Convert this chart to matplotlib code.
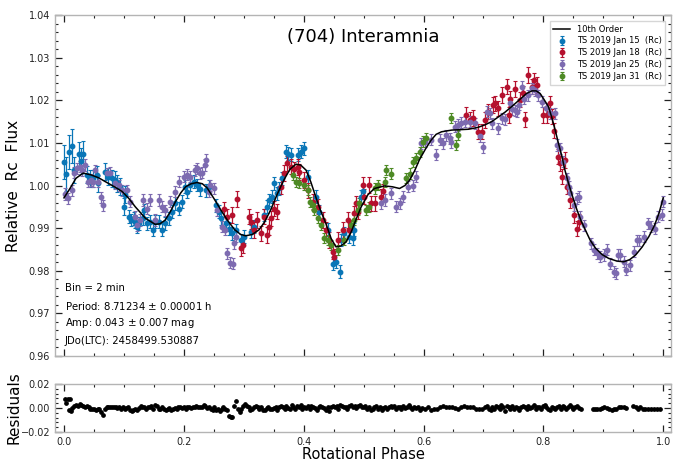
import matplotlib
matplotlib.use("Agg")
import matplotlib.pyplot as plt
from matplotlib.ticker import MultipleLocator

# ---------------- data ----------------
fit_phase = [0.000, 0.010, 0.020, 0.032, 0.045, 0.058, 0.069, 0.083, 0.097, 0.108,
             0.119, 0.136, 0.152, 0.160, 0.169, 0.178, 0.186, 0.195, 0.203, 0.212,
             0.222, 0.231, 0.239, 0.250, 0.262, 0.2725, 0.285, 0.295, 0.303, 0.314,
             0.3255, 0.335, 0.345, 0.356, 0.367, 0.377, 0.387, 0.395, 0.404, 0.412,
             0.420, 0.428, 0.437, 0.446, 0.454, 0.462, 0.471, 0.479, 0.487, 0.496,
             0.507, 0.518, 0.535, 0.548, 0.560, 0.569, 0.577, 0.585, 0.593, 0.603,
             0.613, 0.621, 0.630, 0.647, 0.675, 0.690, 0.702, 0.714, 0.725, 0.736,
             0.747, 0.756, 0.764, 0.772, 0.781, 0.788, 0.7945, 0.801, 0.8085, 0.814,
             0.8197, 0.825, 0.831, 0.836, 0.842, 0.849, 0.856, 0.863, 0.870, 0.878,
             0.887, 0.898, 0.909, 0.922, 0.934, 0.944, 0.954, 0.965, 0.976, 0.985,
             0.993, 1.000]
fit_flux = [0.9971, 0.9993, 1.0017, 1.0029, 1.0025, 1.0018, 1.0009, 0.9998, 0.9986, 0.9970,
            0.9950, 0.9923, 0.9909, 0.9910, 0.9919, 0.9940, 0.9962, 0.9983, 0.9997, 1.0004,
            1.0007, 1.0004, 0.9994, 0.9970, 0.9942, 0.9919, 0.9896, 0.9885, 0.9882, 0.9885,
            0.9896, 0.9915, 0.9943, 0.9980, 1.0013, 1.0038, 1.0050, 1.0048, 1.0036, 1.0008,
            0.9974, 0.9942, 0.9911, 0.9875, 0.9856, 0.9858, 0.9868, 0.9890, 0.9919, 0.9950,
            0.9978, 0.9993, 0.9999, 0.9997, 0.9993, 1.0000, 1.0013, 1.0034, 1.0060, 1.0085,
            1.0107, 1.0120, 1.0126, 1.0130, 1.0132, 1.0136, 1.0142, 1.0150, 1.0161, 1.0172,
            1.0185, 1.0196, 1.0206, 1.0216, 1.0222, 1.0222, 1.0216, 1.0202, 1.0185, 1.0160,
            1.0130, 1.0100, 1.0068, 1.0036, 1.0005, 0.9973, 0.9943, 0.9917, 0.9896, 0.9872,
            0.9853, 0.9838, 0.9829, 0.9823, 0.9821, 0.9826, 0.9837, 0.9856, 0.9880, 0.9905,
            0.9935, 0.9971]

jan15_phase = [0.0000, 0.0033, 0.0084, 0.0128, 0.0167, 0.0251, 0.0285, 0.0324, 0.0380, 0.0436,
               0.0491, 0.0547, 0.0575, 0.0687, 0.0742, 0.0798, 0.0855, 0.0882, 0.0938, 0.0994,
               0.1021, 0.1077, 0.1122, 0.1161, 0.1189, 0.1217, 0.1256, 0.1312, 0.1329, 0.1385,
               0.1440, 0.1480, 0.1524, 0.1580, 0.1636, 0.1692, 0.1747, 0.1803, 0.1859, 0.1926,
               0.1971, 0.2027, 0.2055, 0.2110, 0.2166, 0.2222, 0.2278, 0.2362, 0.2418, 0.2529,
               0.2585, 0.2613, 0.2697, 0.2753, 0.2808, 0.2864, 0.2948, 0.3004, 0.3115, 0.3171,
               0.3339, 0.3395, 0.3423, 0.3479, 0.3506, 0.3562, 0.3590, 0.3646, 0.3702, 0.3741,
               0.3785, 0.3897, 0.3953, 0.4009, 0.4065, 0.4204, 0.4260, 0.4400, 0.4483, 0.4539,
               0.4612, 0.4623, 0.4679, 0.4763, 0.4819, 0.4846, 0.4958, 0.4986]
jan15_flux = [1.0056, 1.0027, 1.0079, 1.0092, 1.0036, 1.0073, 1.0058, 1.0075, 1.0025, 1.0017,
              1.0017, 1.0025, 1.0005, 1.0032, 1.0021, 1.0017, 1.0013, 1.0005, 0.9997, 0.9950,
              0.9978, 0.9927, 0.9919, 0.9923, 0.9915, 0.9903, 0.9911, 0.9923, 0.9942, 0.9911,
              0.9915, 0.9896, 0.9915, 0.9915, 0.9896, 0.9911, 0.9923, 0.9939, 0.9958, 0.9946,
              0.9962, 0.9997, 0.9985, 1.0001, 1.0009, 1.0001, 0.9991, 0.9989, 0.9997, 0.9954,
              0.9939, 0.9923, 0.9911, 0.9899, 0.9888, 0.9895, 0.9872, 0.9880, 0.9892, 0.9903,
              0.9931, 0.9950, 0.9966, 0.9974, 1.0005, 0.9982, 0.9993, 1.0017, 1.0079, 1.0075,
              1.0072, 1.0072, 1.0079, 1.0087, 1.0021, 0.9974, 0.9939, 0.9896, 0.9817, 0.9821,
              0.9798, 0.9872, 0.9888, 0.9880, 0.9876, 0.9896, 0.9974, 0.9986]
jan15_err = [0.0040, 0.0040, 0.0040, 0.0040, 0.0030, 0.0030, 0.0030, 0.0030, 0.0020, 0.0020,
             0.0020, 0.0020, 0.0020, 0.0020, 0.0020, 0.0020, 0.0020, 0.0020, 0.0020, 0.0020,
             0.0020, 0.0015, 0.0015, 0.0015, 0.0015, 0.0015, 0.0015, 0.0015, 0.0015, 0.0015,
             0.0015, 0.0015, 0.0015, 0.0015, 0.0015, 0.0015, 0.0015, 0.0015, 0.0015, 0.0015,
             0.0015, 0.0015, 0.0015, 0.0015, 0.0015, 0.0015, 0.0015, 0.0015, 0.0015, 0.0015,
             0.0015, 0.0015, 0.0015, 0.0015, 0.0015, 0.0015, 0.0015, 0.0015, 0.0015, 0.0015,
             0.0015, 0.0015, 0.0015, 0.0015, 0.0015, 0.0015, 0.0015, 0.0015, 0.0015, 0.0015,
             0.0015, 0.0015, 0.0015, 0.0015, 0.0015, 0.0015, 0.0015, 0.0015, 0.0015, 0.0015,
             0.0015, 0.0015, 0.0015, 0.0015, 0.0015, 0.0015, 0.0015, 0.0015]

jan18_phase = [0.2669, 0.2725, 0.2808, 0.2892, 0.2948, 0.2992, 0.3088, 0.3115, 0.3171, 0.3227,
               0.3283, 0.3339, 0.3383, 0.3423, 0.3451, 0.3506, 0.3551, 0.3618, 0.3674, 0.3730,
               0.3785, 0.3841, 0.3897, 0.3925, 0.4009, 0.4065, 0.4148, 0.4232, 0.4316, 0.4372,
               0.4428, 0.4483, 0.4511, 0.4567, 0.4651, 0.4735, 0.4763, 0.4847, 0.4874, 0.4902,
               0.4986, 0.5014, 0.5098, 0.5126, 0.5182, 0.5294, 0.5321, 0.6717, 0.6773, 0.6829,
               0.6913, 0.6969, 0.7025, 0.7080, 0.7164, 0.7192, 0.7248, 0.7304, 0.7387, 0.7426,
               0.7443, 0.7527, 0.7610, 0.7666, 0.7694, 0.7739, 0.7805, 0.7850, 0.7889, 0.8001,
               0.8057, 0.8113, 0.8141, 0.8185, 0.8241, 0.8280, 0.8319, 0.8364, 0.8392, 0.8448,
               0.8503, 0.8559, 0.8598]
jan18_flux = [0.9944, 0.9927, 0.9931, 0.9968, 0.9853, 0.9860, 0.9927, 0.9915, 0.9896, 0.9919,
              0.9888, 0.9927, 0.9884, 0.9903, 0.9923, 0.9946, 0.9939, 0.9997, 1.0029, 1.0052,
              1.0044, 1.0038, 1.0043, 1.0032, 1.0013, 0.9989, 0.9962, 0.9950, 0.9919, 0.9896,
              0.9872, 0.9845, 0.9833, 0.9872, 0.9896, 0.9919, 0.9896, 0.9935, 0.9958, 0.9939,
              1.0001, 0.9974, 1.0001, 0.9958, 0.9958, 0.9974, 0.9986, 1.0165, 1.0154, 1.0158,
              1.0126, 1.0126, 1.0154, 1.0173, 1.0189, 1.0193, 1.0181, 1.0212, 1.0232, 1.0165,
              1.0204, 1.0226, 1.0201, 1.0216, 1.0155, 1.0259, 1.0232, 1.0247, 1.0236, 1.0165,
              1.0165, 1.0193, 1.0162, 1.0129, 1.0068, 1.0052, 1.0021, 1.0060, 0.9997, 0.9966,
              0.9931, 0.9899, 0.9915]
jan18_err = 0.0018

jan25_phase = [0.0017, 0.0073, 0.0128, 0.0173, 0.0212, 0.0268, 0.0296, 0.0352, 0.0407, 0.0452,
               0.0491, 0.0519, 0.0564, 0.0620, 0.0659, 0.0715, 0.0770, 0.0843, 0.0910, 0.0966,
               0.1049, 0.1105, 0.1189, 0.1217, 0.1273, 0.1312, 0.1385, 0.1440, 0.1524, 0.1580,
               0.1636, 0.1692, 0.1775, 0.1859, 0.1926, 0.1999, 0.2055, 0.2110, 0.2183, 0.2222,
               0.2278, 0.2306, 0.2345, 0.2373, 0.2418, 0.2445, 0.2501, 0.2557, 0.2641, 0.2680,
               0.2725, 0.2769, 0.2820, 0.2836, 0.2864, 0.5294, 0.5349, 0.5450, 0.5545, 0.5601,
               0.5656, 0.5740, 0.5824, 0.5880, 0.5963, 0.6019, 0.6131, 0.6215, 0.6271, 0.6327,
               0.6382, 0.6438, 0.6466, 0.6522, 0.6578, 0.6633, 0.6689, 0.6773, 0.6857, 0.6941,
               0.6996, 0.7052, 0.7108, 0.7136, 0.7237, 0.7304, 0.7359, 0.7443, 0.7471, 0.7527,
               0.7554, 0.7593, 0.7638, 0.7683, 0.7750, 0.7805, 0.7861, 0.7917, 0.7973, 0.8040,
               0.8113, 0.8196, 0.8224, 0.8280, 0.8336, 0.8392, 0.8420, 0.8448, 0.8503, 0.8559,
               0.8587, 0.8615, 0.8671, 0.8799, 0.8839, 0.8895, 0.8950, 0.9006, 0.9062, 0.9118,
               0.9174, 0.9213, 0.9246, 0.9285, 0.9341, 0.9380, 0.9453, 0.9508, 0.9564, 0.9604,
               0.9676, 0.9749, 0.9804, 0.9860, 0.9916, 0.9972, 0.9990]
jan25_flux = [0.9980, 0.9970, 0.9989, 1.0030, 1.0040, 1.0044, 1.0036, 1.0048, 1.0009, 1.0013,
              1.0009, 1.0036, 1.0009, 0.9972, 0.9954, 1.0029, 1.0030, 1.0005, 1.0001, 0.9989,
              0.9989, 0.9962, 0.9927, 0.9907, 0.9919, 0.9966, 0.9946, 0.9966, 0.9919, 0.9966,
              0.9950, 0.9942, 0.9962, 0.9985, 1.0009, 1.0021, 1.0025, 1.0021, 1.0036, 1.0040,
              1.0029, 1.0030, 1.0048, 1.0060, 0.9985, 1.0001, 0.9993, 0.9942, 0.9903, 0.9896,
              0.9841, 0.9819, 0.9817, 0.9864, 0.9880, 0.9958, 0.9966, 0.9982, 0.9950, 0.9958,
              0.9974, 0.9997, 0.9999, 1.0021, 1.0099, 1.0103, 1.0107, 1.0072, 1.0107, 1.0099,
              1.0118, 1.0111, 1.0101, 1.0138, 1.0142, 1.0147, 1.0150, 1.0150, 1.0146, 1.0115,
              1.0090, 1.0173, 1.0169, 1.0146, 1.0134, 1.0158, 1.0155, 1.0193, 1.0179, 1.0177,
              1.0173, 1.0189, 1.0232, 1.0204, 1.0212, 1.0228, 1.0224, 1.0212, 1.0197, 1.0181,
              1.0169, 1.0169, 1.0095, 1.0087, 1.0056, 1.0017, 0.9997, 0.9982, 0.9954, 0.9970,
              0.9974, 0.9927, 0.9907, 0.9864, 0.9849, 0.9841, 0.9833, 0.9837, 0.9849, 0.9817,
              0.9798, 0.9794, 0.9837, 0.9837, 0.9821, 0.9802, 0.9813, 0.9845, 0.9872, 0.9872,
              0.9880, 0.9911, 0.9903, 0.9899, 0.9927, 0.9931, 0.9962]
jan25_err = 0.0013

jan31_phase = [0.3814, 0.3869, 0.3925, 0.4009, 0.4065, 0.4109, 0.4148, 0.4176, 0.4232, 0.4288,
               0.4344, 0.4400, 0.4456, 0.4567, 0.4679, 0.4790, 0.4846, 0.4902, 0.4930, 0.5042,
               0.5098, 0.5182, 0.5238, 0.5349, 0.5377, 0.5461, 0.5712, 0.5768, 0.5824, 0.5880,
               0.5936, 0.5991, 0.6047, 0.6466, 0.6550, 0.6578]
jan31_flux = [1.0025, 1.0009, 1.0005, 1.0001, 0.9989, 0.9962, 0.9954, 0.9942, 0.9923, 0.9907,
              0.9876, 0.9872, 0.9860, 0.9849, 0.9872, 0.9907, 0.9919, 0.9942, 0.9958, 0.9943,
              0.9950, 0.9993, 1.0001, 1.0009, 1.0036, 1.0028, 1.0017, 1.0028, 1.0056, 1.0064,
              1.0079, 1.0103, 1.0111, 1.0158, 1.0095, 1.0118]
jan31_err = 0.0012

resid_phase = [0.002, 0.004, 0.006, 0.008, 0.010, 0.012, 0.014, 0.017, 0.020, 0.023,
               0.026, 0.029, 0.032, 0.035, 0.038, 0.041, 0.044, 0.047, 0.050, 0.053,
               0.056, 0.059, 0.062, 0.065, 0.068, 0.071, 0.074, 0.077, 0.080, 0.083,
               0.086, 0.089, 0.092, 0.095, 0.098, 0.101, 0.104, 0.107, 0.110, 0.113,
               0.116, 0.119, 0.122, 0.125, 0.128, 0.131, 0.134, 0.137, 0.140, 0.143,
               0.146, 0.149, 0.152, 0.155, 0.158, 0.161, 0.164, 0.167, 0.170, 0.173,
               0.176, 0.179, 0.182, 0.185, 0.188, 0.191, 0.194, 0.197, 0.200, 0.203,
               0.206, 0.209, 0.212, 0.215, 0.218, 0.221, 0.224, 0.227, 0.230, 0.233,
               0.236, 0.239, 0.242, 0.245, 0.248, 0.251, 0.254, 0.257, 0.260, 0.263,
               0.266, 0.269, 0.272, 0.275, 0.278, 0.281, 0.284, 0.287, 0.290, 0.293,
               0.296, 0.299, 0.302, 0.305, 0.308, 0.311, 0.314, 0.317, 0.320, 0.323,
               0.326, 0.329, 0.332, 0.335, 0.338, 0.341, 0.344, 0.347, 0.350, 0.353,
               0.356, 0.359, 0.362, 0.365, 0.368, 0.371, 0.374, 0.377, 0.380, 0.383,
               0.386, 0.389, 0.392, 0.395, 0.398, 0.401, 0.404, 0.407, 0.410, 0.413,
               0.416, 0.419, 0.422, 0.425, 0.428, 0.431, 0.434, 0.437, 0.440, 0.443,
               0.446, 0.449, 0.452, 0.455, 0.458, 0.461, 0.464, 0.467, 0.470, 0.473,
               0.476, 0.479, 0.482, 0.485, 0.488, 0.491, 0.494, 0.497, 0.500, 0.503,
               0.506, 0.509, 0.512, 0.515, 0.518, 0.521, 0.524, 0.527, 0.530, 0.533,
               0.536, 0.539, 0.542, 0.545, 0.548, 0.551, 0.554, 0.557, 0.560, 0.563,
               0.566, 0.569, 0.572, 0.575, 0.578, 0.581, 0.584, 0.587, 0.590, 0.594,
               0.598, 0.603, 0.608, 0.613, 0.618, 0.623, 0.628, 0.633, 0.638, 0.643,
               0.648, 0.653, 0.658, 0.663, 0.668, 0.673, 0.678, 0.683, 0.688, 0.693,
               0.698, 0.703, 0.706, 0.709, 0.712, 0.715, 0.718, 0.721, 0.724, 0.727,
               0.730, 0.733, 0.736, 0.739, 0.742, 0.745, 0.748, 0.751, 0.754, 0.757,
               0.760, 0.763, 0.766, 0.769, 0.772, 0.775, 0.778, 0.781, 0.784, 0.787,
               0.790, 0.793, 0.796, 0.799, 0.802, 0.805, 0.808, 0.811, 0.814, 0.817,
               0.820, 0.823, 0.826, 0.829, 0.832, 0.835, 0.838, 0.841, 0.844, 0.847,
               0.850, 0.853, 0.856, 0.859, 0.862, 0.882, 0.886, 0.890, 0.894, 0.898,
               0.902, 0.906, 0.910, 0.914, 0.918, 0.922, 0.926, 0.930, 0.934, 0.938,
               0.950, 0.954, 0.958, 0.962, 0.966, 0.970, 0.975, 0.980, 0.985, 0.990,
               0.995]
resid_value = [0.0075, 0.0045, 0.0075, -0.0015, 0.0078, -0.0025, 0.0000, 0.0015, 0.0022, 0.0018,
               0.0030, 0.0025, 0.0015, 0.0008, 0.0020, 0.0005, -0.0005, -0.0010, -0.0008, -0.0015,
               -0.0010, -0.0012, -0.0030, -0.0055, -0.0010, 0.0005, 0.0010, 0.0012, 0.0008, 0.0010,
               0.0005, 0.0000, 0.0010, -0.0005, 0.0008, -0.0010, -0.0003, 0.0005, -0.0015, -0.0025,
               -0.0020, -0.0012, -0.0015, 0.0000, 0.0020, 0.0010, 0.0005, -0.0008, 0.0012, 0.0005,
               0.0018, -0.0005, 0.0022, 0.0015, -0.0005, -0.0012, 0.0010, -0.0008, -0.0015, -0.0010,
               0.0000, -0.0020, -0.0005, 0.0000, -0.0010, 0.0005, 0.0008, 0.0000, 0.0010, -0.0005,
               0.0008, 0.0012, 0.0000, 0.0010, 0.0005, 0.0020, 0.0008, 0.0012, 0.0005, 0.0025,
               0.0015, -0.0003, 0.0010, -0.0010, -0.0020, 0.0005, -0.0015, -0.0005, -0.0025, -0.0010,
               0.0010, -0.0005, -0.0020, -0.0065, -0.0075, -0.0075, 0.0020, 0.0060, -0.0005, -0.0030,
               -0.0010, 0.0015, 0.0030, 0.0020, 0.0008, -0.0015, -0.0005, 0.0010, 0.0020, 0.0012,
               -0.0005, 0.0005, -0.0020, -0.0015, 0.0000, 0.0010, -0.0010, -0.0012, 0.0000, 0.0005,
               -0.0015, 0.0010, 0.0015, 0.0005, -0.0010, 0.0020, 0.0000, -0.0005, 0.0022, 0.0010,
               -0.0008, 0.0018, 0.0005, 0.0025, -0.0010, 0.0012, 0.0000, 0.0015, -0.0005, 0.0020,
               0.0010, 0.0000, -0.0015, 0.0008, 0.0018, 0.0005, 0.0000, -0.0020, 0.0005, -0.0025,
               0.0012, 0.0020, 0.0010, 0.0018, -0.0008, 0.0025, 0.0015, 0.0005, 0.0010, -0.0010,
               0.0018, 0.0025, 0.0008, 0.0015, 0.0000, 0.0020, 0.0028, 0.0012, 0.0005, 0.0018,
               -0.0010, 0.0008, -0.0015, -0.0005, 0.0010, 0.0015, -0.0008, 0.0005, -0.0020, 0.0000,
               0.0012, -0.0012, 0.0005, 0.0018, 0.0008, 0.0020, -0.0008, 0.0005, 0.0010, -0.0005,
               0.0015, 0.0000, 0.0010, 0.0022, 0.0008, -0.0005, 0.0010, 0.0000, 0.0012, -0.0015,
               0.0002, -0.0008, 0.0005, -0.0018, -0.0010, -0.0005, 0.0008, 0.0015, 0.0005, 0.0010,
               0.0012, 0.0000, -0.0008, 0.0010, 0.0015, 0.0012, 0.0008, 0.0005, -0.0005, -0.0012,
               -0.0010, 0.0005, 0.0015, -0.0005, -0.0020, 0.0010, -0.0008, 0.0018, 0.0005, -0.0012,
               0.0025, 0.0010, -0.0025, 0.0015, 0.0005, -0.0010, 0.0020, -0.0005, 0.0012, 0.0000,
               -0.0015, 0.0010, 0.0018, 0.0005, -0.0008, 0.0015, 0.0000, 0.0010, 0.0022, -0.0005,
               0.0012, 0.0005, -0.0010, 0.0020, 0.0028, 0.0010, -0.0005, -0.0015, 0.0008, 0.0000,
               -0.0012, 0.0010, 0.0020, -0.0005, 0.0015, 0.0005, -0.0008, 0.0010, 0.0025, 0.0012,
               -0.0005, 0.0008, 0.0015, 0.0000, -0.0010, -0.0008, -0.0010, -0.0008, -0.0005, 0.0000,
               0.0008, 0.0000, -0.0010, -0.0020, -0.0010, -0.0005, 0.0005, 0.0010, 0.0005, 0.0000,
               0.0015, 0.0005, -0.0005, 0.0012, -0.0008, -0.0010, -0.0005, -0.0008, -0.0012, -0.0010,
               -0.0008]

series_labels = ["TS 2019 Jan 15  (Rc)", "TS 2019 Jan 18  (Rc)",
                 "TS 2019 Jan 25  (Rc)", "TS 2019 Jan 31  (Rc)"]
series_colors = ["#0a76b7", "#b5112e", "#7d6bb0", "#4e8a25"]
info_lines = ["Bin = 2 min",
              r"Period: 8.71234 $\pm$ 0.00001 h",
              r"Amp: 0.043 $\pm$ 0.007 mag",
              "JDo(LTC): 2458499.530887"]

# ---------------- figure ----------------
fig = plt.figure(figsize=(6.84, 4.62), dpi=100)
L, R = 55 / 684, 671 / 684
ax = fig.add_axes([L, 1 - 356 / 462, R - L, (356 - 15) / 462])
axr = fig.add_axes([L, 1 - 432 / 462, R - L, (432 - 384) / 462], sharex=ax)

spine_col = "#b4b4b4"
for a in (ax, axr):
    for s in a.spines.values():
        s.set_color(spine_col)
        s.set_linewidth(1.0)
    a.tick_params(which="both", direction="in", top=True, right=True,
                  labelsize=7, colors="#222222")
    a.tick_params(which="major", length=5, width=0.9)
    a.tick_params(which="minor", length=2.5, width=0.8)
    a.xaxis.set_major_locator(MultipleLocator(0.2))
    a.xaxis.set_minor_locator(MultipleLocator(0.05))

ax.set_xlim(-0.015, 1.013)
ax.set_ylim(0.96, 1.04)
ax.yaxis.set_major_locator(MultipleLocator(0.01))
ax.yaxis.set_minor_locator(MultipleLocator(0.002))
ax.tick_params(labelbottom=False)

phases = [jan15_phase, jan18_phase, jan25_phase, jan31_phase]
fluxes = [jan15_flux, jan18_flux, jan25_flux, jan31_flux]
errs = [jan15_err, jan18_err, jan25_err, jan31_err]
handles = []
fit_line, = ax.plot(fit_phase, fit_flux, color="black", lw=1.1, zorder=5)
handles.append(fit_line)
for p, f, e, c, lab in zip(phases, fluxes, errs, series_colors, series_labels):
    h = ax.errorbar(p, f, yerr=e, fmt="o", ms=3.2, color=c, ecolor=c,
                    elinewidth=0.9, capsize=1.5, capthick=0.8, label=lab, zorder=3)
    handles.append(h)

ax.legend(handles, ["10th Order"] + series_labels, loc="upper right",
          fontsize=6.0, frameon=True, edgecolor="#cccccc", fancybox=False,
          borderpad=0.4, labelspacing=0.35, handlelength=2.0,
          bbox_to_anchor=(0.997, 0.994))

ax.text(0.5, 0.935, "(704) Interamnia", transform=ax.transAxes, ha="center",
        va="center", fontsize=13)
for i, t in enumerate(info_lines):
    ax.text(0.016, 0.199 - i * 0.0515, t, transform=ax.transAxes, ha="left",
            va="center", fontsize=7.3)

ax.set_ylabel("Relative  Rc  Flux", fontsize=11)
ax.yaxis.set_label_coords(-0.055, 0.5)

axr.plot(resid_phase, resid_value, "o", ms=2.4, color="black")
axr.set_ylim(-0.02, 0.02)
axr.yaxis.set_major_locator(MultipleLocator(0.02))
axr.yaxis.set_minor_locator(MultipleLocator(0.004))
axr.set_ylabel("Residuals", fontsize=11)
axr.yaxis.set_label_coords(-0.055, 0.5)
axr.set_xlabel("Rotational Phase", fontsize=10.5, labelpad=0)

fig.savefig("out.png", dpi=100)
